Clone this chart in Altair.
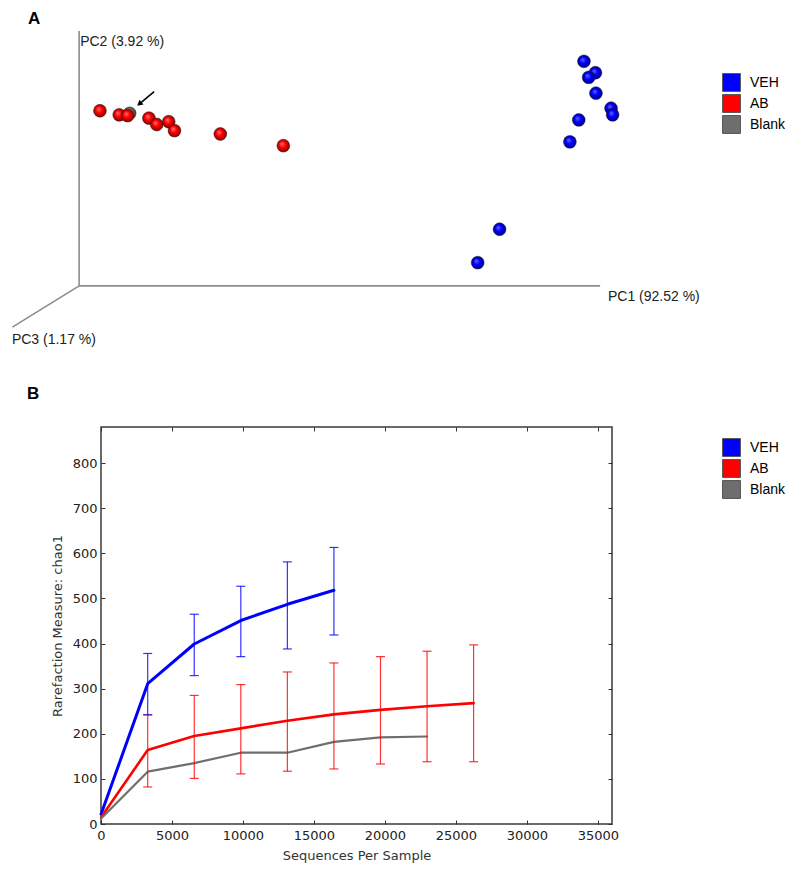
import altair as alt
import pandas as pd

# ---------------- Panel A data (projected PCoA coordinates, arbitrary units) -------------
groups = ["VEH", "AB", "Blank"]
colors = ["#0000ff", "#ff0000", "#6e6e6e"]
# sphere shading: (highlight, body, rim) per group
shades = {"VEH": ("#6a6aff", "#0000ff", "#000080"),
          "AB": ("#ff7a7a", "#ff0000", "#800000"),
          "Blank": ("#b0b0b0", "#777777", "#333333")}

veh_pc1 = [96.9, 99.1, 97.8, 99.2, 102.1, 102.4, 95.9, 94.2, 80.7, 76.5]
veh_pc2 = [88.1, 83.6, 81.8, 75.6, 69.7, 67.1, 65.1, 56.5, 22.2, 9.1]
ab_pc1 = [4.0, 7.7, 9.3, 13.4, 14.9, 17.2, 18.3, 27.1, 39.2]
ab_pc2 = [68.7, 67.1, 66.8, 65.8, 63.3, 64.4, 60.9, 59.6, 55.0]
blank_pc1 = [9.7]
blank_pc2 = [67.7]

# projected axes of the 3D frame
axis_names = ["PC1 (92.52 %)", "PC2 (3.92 %)", "PC3 (1.17 %)"]
axis_end_x = [100.0, 0.0, -12.8]
axis_end_y = [0.0, 100.0, -16.2]
axis_lab_x = [101.5, 0.2, -12.9]
axis_lab_y = [-4.3, 95.5, -21.2]

# arrow pointing at the Blank sample
arrow_x = [14.4]
arrow_y = [76.2]
arrow_x2 = [11.7]
arrow_y2 = [71.6]

# ---------------- Panel B data (rarefaction, chao1) -------------
depths = [10, 3290, 6570, 9850, 13130, 16410, 19690, 22970, 26250]
veh_mean = [22, 311, 399, 451, 487, 518]
veh_lo = [None, 242, 329, 371, 388, 419]
veh_hi = [None, 378, 465, 527, 581, 613]
ab_mean = [15, 164, 195, 212, 229, 243, 253, 261, 268]
ab_lo = [None, 82, 101, 111, 117, 122, 133, 138, 138]
ab_hi = [None, 242, 285, 309, 337, 357, 371, 383, 397]
blank_mean = [12, 116, 135, 158, 158, 182, 192, 194]

x_ticks = [0, 5000, 10000, 15000, 20000, 25000, 30000, 35000]
y_ticks = [0, 100, 200, 300, 400, 500, 600, 700, 800]

# ---------------- build tables -------------
pts = pd.DataFrame(
    [{"group": "Blank", "pc1": a, "pc2": b} for a, b in zip(blank_pc1, blank_pc2)]
    + [{"group": "AB", "pc1": a, "pc2": b} for a, b in zip(ab_pc1, ab_pc2)]
    + [{"group": "VEH", "pc1": a, "pc2": b} for a, b in zip(veh_pc1, veh_pc2)]
)
axes_df = pd.DataFrame({
    "name": axis_names, "x0": [0.0] * 3, "y0": [0.0] * 3,
    "x1": axis_end_x, "y1": axis_end_y, "lx": axis_lab_x, "ly": axis_lab_y,
})
arrow_df = pd.DataFrame({"x": arrow_x, "y": arrow_y, "x2": arrow_x2, "y2": arrow_y2})

rows = []
for name, mean, lo, hi in [("VEH", veh_mean, veh_lo, veh_hi), ("AB", ab_mean, ab_lo, ab_hi),
                           ("Blank", blank_mean, [None] * len(blank_mean), [None] * len(blank_mean))]:
    for i, m in enumerate(mean):
        rows.append({"group": name, "depth": depths[i], "mean": m, "lo": lo[i], "hi": hi[i]})
rare = pd.DataFrame(rows)
err = rare.dropna(subset=["lo"])

color_scale = alt.Scale(domain=groups, range=colors)
FONT = "Liberation Sans"
AX = "DejaVu Sans"


def legend_at(y):
    return alt.Legend(title=None, orient="none", legendX=621, legendY=y,
                      symbolType="square", symbolSize=320, symbolOpacity=1,
                      symbolStrokeColor="#555555", symbolStrokeWidth=1,
                      labelFont=FONT, labelFontSize=14, labelColor="#000000",
                      labelOffset=9, rowPadding=-3, padding=0)


# ---------------- Panel A -------------
W_A, H_A = 521, 316
xa = alt.Scale(domain=[4.2, 104.2], nice=False, zero=False)
ya = alt.Scale(domain=[-24, 100], nice=False, zero=False)

frame_a = alt.Chart(axes_df).mark_rule(color="#8c8c8c", strokeWidth=1.6).encode(
    x=alt.X("x0:Q", scale=xa, axis=None), y=alt.Y("y0:Q", scale=ya, axis=None),
    x2="x1:Q", y2="y1:Q")
labels_a = alt.Chart(axes_df).mark_text(align="left", baseline="middle", font=FONT,
                                        fontSize=14, color="#222222").encode(
    x=alt.X("lx:Q", scale=xa, axis=None), y=alt.Y("ly:Q", scale=ya, axis=None), text="name:N")
arrow_line = alt.Chart(arrow_df).mark_rule(color="black", strokeWidth=1.6).encode(
    x=alt.X("x:Q", scale=xa, axis=None), y=alt.Y("y:Q", scale=ya, axis=None), x2="x2:Q", y2="y2:Q")
arrow_head = alt.Chart(arrow_df).mark_point(shape="triangle", filled=True, color="black",
                                            size=40, angle=230, opacity=1).encode(
    x=alt.X("x2:Q", scale=xa, axis=None), y=alt.Y("y2:Q", scale=ya, axis=None))


def sphere_layer(g):
    hi, body, rim = shades[g]
    grad = alt.RadialGradient(
        gradient="radial", x1=0.38, y1=0.35, r1=0.0, x2=0.5, y2=0.5, r2=0.55,
        stops=[alt.GradientStop(offset=0.0, color=hi), alt.GradientStop(offset=0.45, color=body),
               alt.GradientStop(offset=1.0, color=rim)])
    return alt.Chart(pts[pts["group"] == g]).mark_circle(
        size=165, opacity=1, fill=grad, stroke="#1a1a1a", strokeWidth=0.6, strokeOpacity=0.8
    ).encode(x=alt.X("pc1:Q", scale=xa, axis=None), y=alt.Y("pc2:Q", scale=ya, axis=None))


legend_a = alt.Chart(pts).mark_square(opacity=0).encode(
    x=alt.X("pc1:Q", scale=xa, axis=None), y=alt.Y("pc2:Q", scale=ya, axis=None),
    color=alt.Color("group:N", scale=color_scale, legend=legend_at(42)))

panel_a = alt.layer(frame_a, labels_a, arrow_line, arrow_head,
                    sphere_layer("Blank"), sphere_layer("AB"), sphere_layer("VEH"),
                    legend_a).properties(
    width=W_A, height=H_A,
    view=alt.ViewBackground(stroke=None),
    title=alt.TitleParams("A", anchor="start", frame="group", dx=-73, font=FONT, fontSize=17,
                          fontWeight="bold", color="#000000", offset=2),
)

# ---------------- Panel B -------------
W_B, H_B = 511, 397
xb = alt.Scale(domain=[0, 36000], nice=False, zero=False)
yb = alt.Scale(domain=[0, 880], nice=False, zero=False)


def inner_x(orient):
    return alt.Axis(orient=orient, offset=-H_B, labels=False, domain=False, grid=False, title=None,
                    values=x_ticks, tickSize=4, tickColor="#333333", tickWidth=1)


def inner_y(orient):
    return alt.Axis(orient=orient, offset=-W_B, labels=False, domain=False, grid=False, title=None,
                    values=y_ticks, tickSize=4, tickColor="#333333", tickWidth=1)


lines_b = alt.Chart(rare).mark_line(strokeCap="round", strokeJoin="round").encode(
    x=alt.X("depth:Q", scale=xb,
            axis=alt.Axis(orient="bottom", values=x_ticks, format="d", ticks=False, domain=False,
                          grid=False, title="Sequences Per Sample", labelFont=AX, labelFontSize=13,
                          labelColor="#222222", labelPadding=5, titleFont=AX, titleFontSize=13,
                          titleFontWeight="normal", titleColor="#333333", titlePadding=7,
                          labelFlush=False, labelOverlap=False)),
    y=alt.Y("mean:Q", scale=yb,
            axis=alt.Axis(orient="left", values=y_ticks, format="d", ticks=False, domain=False,
                          grid=False, title="Rarefaction Measure: chao1", labelFont=AX,
                          labelFontSize=13, labelColor="#222222", labelPadding=4, titleFont=AX,
                          titleFontSize=13, titleFontWeight="normal", titleColor="#333333",
                          titlePadding=8, labelFlush=False, labelOverlap=False)),
    color=alt.Color("group:N", scale=color_scale, legend=None),
    strokeWidth=alt.StrokeWidth("group:N", scale=alt.Scale(domain=groups, range=[3, 2.2, 3]),
                                legend=None),
    detail="group:N",
)

rules_b = alt.Chart(err).mark_rule(strokeWidth=1.2, opacity=0.8).encode(
    x=alt.X("depth:Q", scale=xb, axis=inner_x("top")),
    y=alt.Y("lo:Q", scale=yb, axis=inner_y("right")),
    y2="hi:Q",
    color=alt.Color("group:N", scale=color_scale, legend=None),
)
caps_hi = alt.Chart(err).mark_tick(orient="horizontal", size=9, thickness=1.2, opacity=0.8).encode(
    x=alt.X("depth:Q", scale=xb, axis=inner_x("bottom")),
    y=alt.Y("hi:Q", scale=yb, axis=inner_y("left")),
    color=alt.Color("group:N", scale=color_scale, legend=None),
)
caps_lo = alt.Chart(err).mark_tick(orient="horizontal", size=9, thickness=1.2, opacity=0.8).encode(
    x=alt.X("depth:Q", scale=xb, axis=None),
    y=alt.Y("lo:Q", scale=yb, axis=None),
    color=alt.Color("group:N", scale=color_scale, legend=None),
)
legend_b = alt.Chart(rare).mark_square(opacity=0).encode(
    x=alt.X("depth:Q", scale=xb, axis=None),
    y=alt.Y("mean:Q", scale=yb, axis=None),
    color=alt.Color("group:N", scale=color_scale, legend=legend_at(11)),
)

panel_b = alt.layer(lines_b, rules_b, caps_hi, caps_lo, legend_b).resolve_axis(
    x="independent", y="independent").resolve_legend(color="independent").properties(
    width=W_B, height=H_B,
    view=alt.ViewBackground(stroke="#3a3a3a", strokeWidth=1.5),
    title=alt.TitleParams("B", anchor="start", frame="group", dx=-74, font=FONT, fontSize=17,
                          fontWeight="bold", color="#000000", offset=24),
)

chart = alt.vconcat(panel_a, panel_b, spacing=36).resolve_legend(color="independent").properties(
    padding={"left": 3, "top": 2, "right": 5, "bottom": 5}
).configure_view(stroke=None)

chart.save("out.html", embed_options={"renderer": "svg", "actions": False})
